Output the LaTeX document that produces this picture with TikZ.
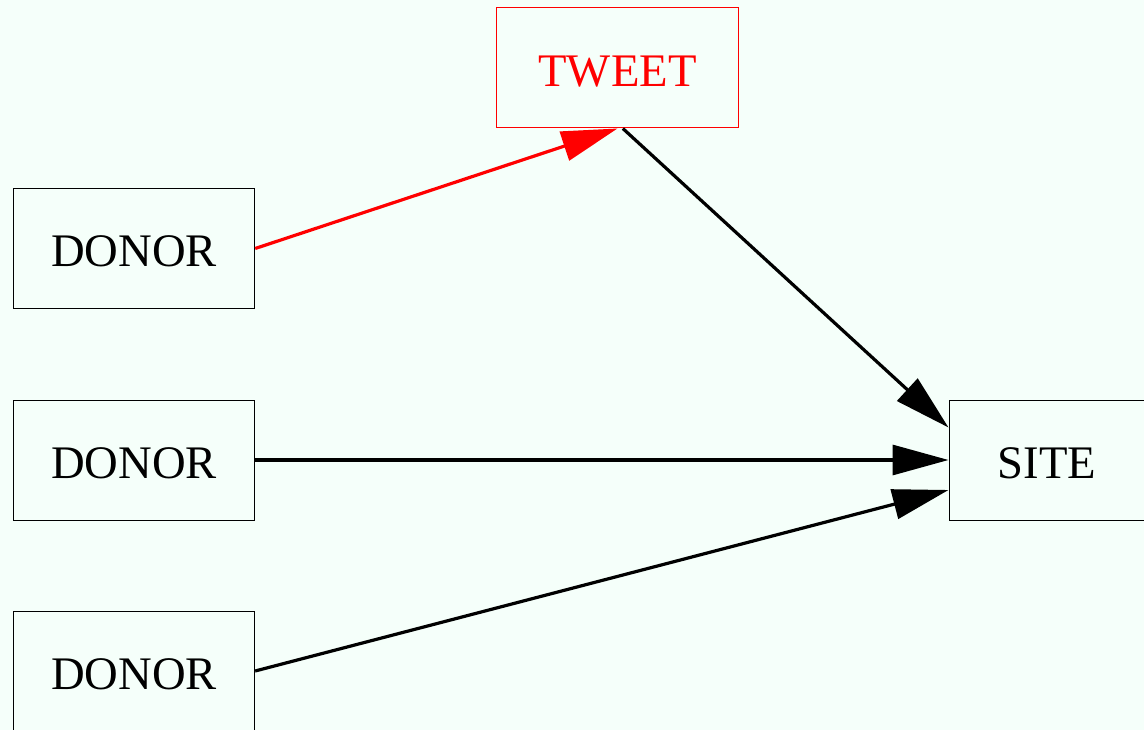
\documentclass[tikz,border=0pt]{standalone}
\usepackage{fontspec}
\setmainfont{Liberation Serif}
\usetikzlibrary{arrows.meta}
\definecolor{mint}{HTML}{F5FFFA}

\begin{document}
\begin{tikzpicture}[x=0.75pt, y=-0.75pt,
    box/.style={draw, line width=0.75pt, inner sep=0pt, minimum width=181pt,
        minimum height=90pt, text height=27.5pt, text depth=0pt,
        font=\fontsize{35}{40}\selectfont},
    edge/.style={line width=2.4pt, -{Triangle[length=42pt, width=22.5pt]}}]
    \fill[mint] (0, 0) rectangle (1144, 730);
    \useasboundingbox (0, 0) rectangle (1144, 730);
    \node[box, draw=red, text=red] (tweet) at (617.5, 68) {TWEET};
    \node[box] (donor1) at (134, 248.5) {DONOR};
    \node[box] (donor2) at (134, 460) {DONOR};
    \node[box] (donor3) at (134, 671) {DONOR};
    \node[box, minimum width=147pt] (site) at (1047, 460) {SITE};
    \draw[edge, red] (donor1.east) to (tweet.south);
    \draw[edge] ([xshift=4pt]tweet.south) to ([yshift=-21pt]site.north west);
    \draw[edge] (donor2.east) to (site.west);
    \draw[edge] (donor3.east) to ([yshift=-22.5pt]site.west);
\end{tikzpicture}
\end{document}
